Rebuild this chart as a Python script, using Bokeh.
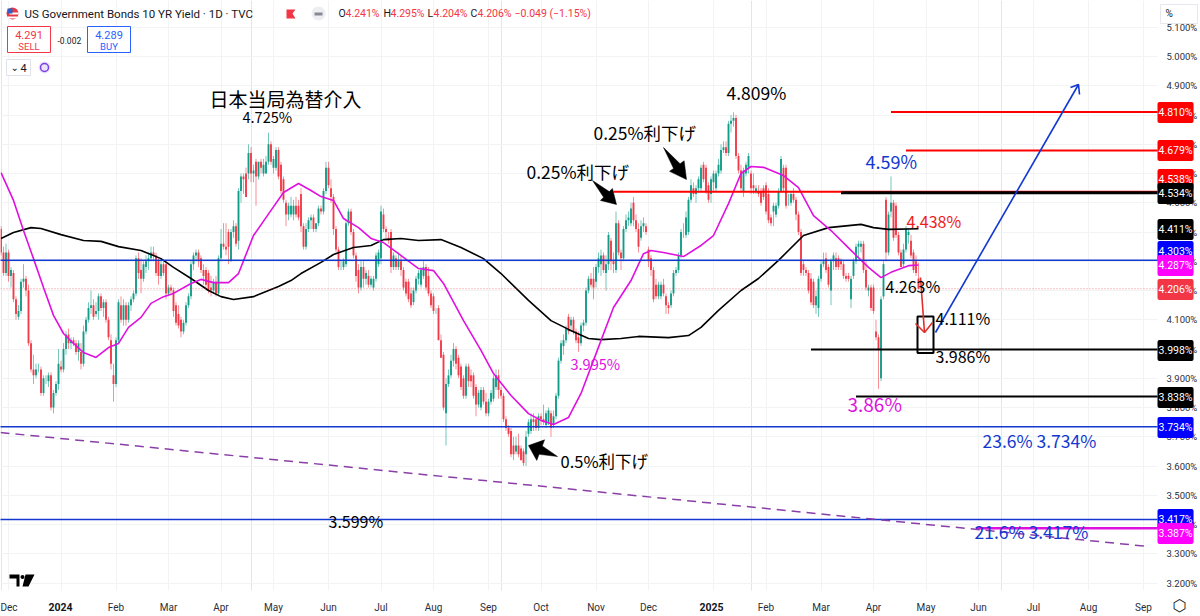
from bokeh.plotting import figure
from bokeh.models import Range1d, FixedTicker, Label, LinearAxis, Grid
from bokeh.embed import file_html
from bokeh.resources import INLINE

opens = [4.41,4.33,4.26,4.33,4.25,4.26,4.17,4.11,4.13,4.23,
4.24,4.20,4.02,3.93,3.91,3.93,3.93,3.85,3.90,3.89,
3.91,3.80,3.85,3.88,3.94,3.93,4.00,4.05,4.02,4.03,
4.02,3.99,3.99,3.95,4.06,4.10,4.14,4.15,4.12,4.13,
4.18,4.14,4.16,4.10,4.03,3.91,3.88,4.03,4.15,4.10,
4.15,4.10,4.15,4.17,4.19,4.31,4.27,4.24,4.28,4.30,
4.31,4.33,4.32,4.30,4.25,4.29,4.29,4.19,4.21,4.20,
4.15,4.12,4.10,4.06,4.09,4.15,4.18,4.29,4.32,4.33,
4.31,4.27,4.27,4.26,4.21,4.20,4.23,4.19,4.31,4.36,
4.35,4.40,4.30,4.40,4.42,4.37,4.54,4.59,4.60,4.60,
4.67,4.60,4.64,4.59,4.64,4.60,4.60,4.64,4.70,4.62,
4.62,4.68,4.63,4.58,4.50,4.46,4.46,4.46,4.49,4.49,
4.53,4.42,4.35,4.41,4.44,4.45,4.41,4.43,4.48,4.47,
4.54,4.62,4.55,4.52,4.41,4.34,4.28,4.28,4.29,4.43,
4.47,4.40,4.32,4.27,4.21,4.28,4.24,4.25,4.22,4.21,
4.24,4.29,4.31,4.46,4.41,4.38,4.40,4.28,4.31,4.28,
4.30,4.27,4.23,4.23,4.19,4.16,4.20,4.24,4.22,4.25,
4.28,4.25,4.19,4.18,4.13,4.14,4.03,3.98,3.78,3.88,
3.91,3.96,4.00,3.97,3.94,3.90,3.84,3.94,3.91,3.91,
3.87,3.81,3.80,3.86,3.82,3.78,3.82,3.83,3.87,3.91,
3.86,3.84,3.76,3.73,3.72,3.67,3.65,3.67,3.66,3.65,
3.64,3.71,3.72,3.76,3.76,3.73,3.77,3.76,3.74,3.75,
3.78,3.74,3.77,3.84,3.96,4.01,4.03,4.11,4.08,4.10,
4.06,4.04,4.02,4.08,4.09,4.20,4.24,4.24,4.23,4.28,
4.29,4.32,4.26,4.29,4.37,4.30,4.27,4.43,4.33,4.31,
4.41,4.44,4.43,4.50,4.44,4.41,4.38,4.42,4.42,4.34,
4.31,4.27,4.22,4.18,4.18,4.22,4.18,4.15,4.15,4.19,
4.26,4.27,4.32,4.40,4.39,4.40,4.51,4.55,4.53,4.55,
4.55,4.63,4.62,4.56,4.53,4.57,4.55,4.60,4.61,4.68,
4.69,4.67,4.77,4.78,4.79,4.66,4.61,4.54,4.60,4.62,
4.60,4.56,4.54,4.54,4.54,4.55,4.56,4.53,4.45,4.47,
4.46,4.49,4.54,4.62,4.62,4.52,4.50,4.53,4.51,4.46,
4.40,4.29,4.27,4.26,4.24,4.23,4.15,4.14,4.24,4.29,
4.31,4.28,4.20,4.30,4.31,4.31,4.30,4.29,4.25,4.25,
4.17,4.25,4.30,4.35,4.35,4.36,4.27,4.20,4.21,4.21,
4.06,4.04,3.90,4.18,4.51,4.33,4.47,4.50,4.49,4.39,
4.33,4.29,4.34,4.39,4.37,4.33,4.30,4.241]
highs = [4.42,4.35,4.36,4.34,4.28,4.27,4.18,4.15,4.24,4.29,
4.25,4.22,4.03,3.98,3.95,3.95,3.94,3.91,3.91,3.92,
3.92,3.86,3.89,4.00,3.96,4.02,4.06,4.07,4.04,4.04,
4.03,4.03,4.02,4.08,4.11,4.16,4.20,4.17,4.16,4.19,
4.19,4.17,4.17,4.11,4.05,3.95,4.04,4.17,4.18,4.17,
4.16,4.16,4.18,4.20,4.32,4.33,4.31,4.30,4.32,4.33,
4.35,4.35,4.33,4.31,4.31,4.30,4.30,4.22,4.22,4.21,
4.16,4.15,4.11,4.10,4.16,4.19,4.30,4.33,4.34,4.34,
4.32,4.29,4.28,4.27,4.25,4.24,4.25,4.32,4.41,4.43,
4.43,4.41,4.41,4.44,4.43,4.55,4.60,4.60,4.62,4.70,
4.69,4.63,4.65,4.64,4.65,4.65,4.66,4.74,4.71,4.66,
4.69,4.69,4.64,4.59,4.51,4.50,4.52,4.51,4.52,4.51,
4.55,4.43,4.43,4.45,4.46,4.46,4.43,4.49,4.49,4.55,
4.64,4.64,4.58,4.53,4.42,4.35,4.30,4.31,4.44,4.48,
4.48,4.41,4.33,4.29,4.30,4.30,4.27,4.27,4.25,4.25,
4.33,4.34,4.49,4.48,4.42,4.40,4.41,4.33,4.32,4.33,
4.32,4.28,4.24,4.24,4.21,4.21,4.25,4.27,4.28,4.30,
4.29,4.28,4.20,4.19,4.14,4.15,4.05,3.99,3.90,3.93,
3.98,4.02,4.01,3.98,3.95,3.91,3.95,3.95,3.93,3.92,
3.88,3.86,3.87,3.87,3.85,3.83,3.86,3.91,3.93,3.93,
3.87,3.85,3.77,3.74,3.73,3.70,3.70,3.71,3.67,3.66,
3.72,3.76,3.78,3.78,3.77,3.78,3.78,3.81,3.79,3.80,
3.79,3.79,3.85,3.97,4.03,4.05,4.08,4.12,4.11,4.11,
4.07,4.06,4.09,4.10,4.21,4.25,4.26,4.28,4.29,4.33,
4.34,4.33,4.32,4.40,4.38,4.33,4.47,4.44,4.34,4.42,
4.46,4.47,4.50,4.52,4.46,4.43,4.44,4.45,4.43,4.35,
4.32,4.28,4.24,4.23,4.23,4.24,4.19,4.16,4.20,4.27,
4.28,4.33,4.41,4.43,4.47,4.52,4.58,4.57,4.56,4.59,
4.63,4.64,4.63,4.57,4.59,4.61,4.61,4.65,4.70,4.71,
4.71,4.78,4.80,4.809,4.80,4.67,4.63,4.62,4.64,4.67,
4.61,4.60,4.56,4.56,4.55,4.56,4.57,4.55,4.46,4.50,
4.50,4.55,4.66,4.63,4.63,4.53,4.54,4.55,4.52,4.47,
4.41,4.30,4.28,4.27,4.26,4.24,4.20,4.25,4.30,4.33,
4.33,4.29,4.31,4.33,4.33,4.32,4.31,4.30,4.26,4.26,
4.25,4.31,4.36,4.37,4.37,4.37,4.30,4.22,4.22,4.22,
4.10,4.05,4.18,4.30,4.52,4.47,4.59,4.51,4.50,4.40,
4.34,4.36,4.42,4.41,4.39,4.34,4.32,4.295]
lows = [4.32,4.25,4.25,4.23,4.21,4.16,4.10,4.10,4.12,4.21,
4.18,4.01,3.92,3.88,3.90,3.92,3.84,3.84,3.88,3.87,
3.79,3.78,3.84,3.86,3.92,3.92,3.98,4.00,4.00,4.01,
3.98,3.96,3.93,3.94,4.05,4.09,4.12,4.10,4.11,4.10,
4.13,4.11,4.09,4.03,3.93,3.82,3.87,4.02,4.09,4.08,
4.08,4.09,4.13,4.16,4.18,4.24,4.19,4.23,4.26,4.27,
4.30,4.30,4.25,4.22,4.24,4.25,4.17,4.18,4.19,4.11,
4.08,4.07,4.04,4.05,4.08,4.14,4.17,4.27,4.30,4.28,
4.26,4.22,4.21,4.19,4.18,4.19,4.18,4.18,4.30,4.34,
4.32,4.29,4.30,4.38,4.35,4.34,4.50,4.53,4.52,4.58,
4.57,4.57,4.49,4.58,4.60,4.59,4.60,4.63,4.63,4.60,
4.61,4.58,4.53,4.50,4.42,4.44,4.45,4.44,4.45,4.44,
4.40,4.34,4.34,4.40,4.41,4.40,4.40,4.42,4.46,4.46,
4.53,4.55,4.50,4.39,4.33,4.27,4.27,4.27,4.28,4.42,
4.39,4.31,4.23,4.19,4.20,4.21,4.22,4.21,4.21,4.20,
4.23,4.28,4.29,4.40,4.37,4.36,4.26,4.27,4.27,4.27,
4.25,4.20,4.18,4.16,4.14,4.15,4.19,4.22,4.21,4.24,
4.20,4.18,4.14,4.12,4.12,4.03,3.97,3.79,3.67,3.87,
3.90,3.94,3.93,3.90,3.86,3.83,3.83,3.87,3.87,3.83,
3.77,3.80,3.79,3.81,3.77,3.77,3.81,3.82,3.86,3.83,
3.83,3.75,3.72,3.70,3.63,3.62,3.64,3.63,3.62,3.60,
3.60,3.70,3.71,3.72,3.72,3.72,3.74,3.74,3.73,3.74,
3.70,3.73,3.76,3.83,3.95,3.98,4.02,4.05,4.06,4.05,
4.02,3.99,4.01,4.06,4.08,4.19,4.21,4.17,4.21,4.26,
4.25,4.26,4.20,4.27,4.27,4.26,4.26,4.32,4.27,4.30,
4.40,4.42,4.42,4.42,4.40,4.33,4.37,4.40,4.39,4.28,
4.25,4.16,4.17,4.17,4.17,4.18,4.12,4.12,4.14,4.18,
4.25,4.26,4.31,4.38,4.38,4.39,4.50,4.52,4.50,4.54,
4.54,4.57,4.53,4.50,4.50,4.54,4.54,4.59,4.60,4.67,
4.66,4.66,4.74,4.76,4.65,4.60,4.54,4.52,4.59,4.60,
4.53,4.53,4.53,4.52,4.49,4.51,4.46,4.43,4.42,4.42,
4.45,4.48,4.54,4.54,4.48,4.49,4.49,4.50,4.44,4.39,
4.25,4.25,4.25,4.19,4.15,4.14,4.12,4.11,4.23,4.28,
4.26,4.21,4.15,4.27,4.27,4.27,4.27,4.24,4.23,4.23,
4.14,4.24,4.29,4.31,4.33,4.26,4.20,4.18,4.13,4.12,
4.03,3.864,3.89,4.17,4.30,4.32,4.45,4.37,4.38,4.32,
4.28,4.28,4.33,4.36,4.31,4.26,4.25,4.204]
closes = [4.33,4.26,4.33,4.25,4.27,4.17,4.12,4.13,4.23,4.24,
4.20,4.02,3.93,3.91,3.93,3.93,3.85,3.90,3.90,3.91,
3.80,3.85,3.88,3.95,3.93,4.00,4.05,4.02,4.03,4.02,
3.99,4.02,3.95,4.06,4.10,4.14,4.15,4.11,4.13,4.18,
4.14,4.16,4.10,4.04,3.95,3.88,4.03,4.16,4.10,4.15,
4.10,4.15,4.17,4.19,4.31,4.26,4.24,4.29,4.30,4.31,
4.33,4.32,4.26,4.25,4.29,4.26,4.19,4.21,4.20,4.13,
4.09,4.08,4.06,4.09,4.15,4.18,4.29,4.32,4.33,4.30,
4.27,4.25,4.22,4.20,4.20,4.23,4.19,4.31,4.36,4.35,
4.34,4.35,4.40,4.42,4.36,4.54,4.59,4.58,4.52,4.67,
4.60,4.61,4.59,4.64,4.62,4.63,4.64,4.70,4.64,4.65,
4.68,4.59,4.54,4.51,4.46,4.49,4.49,4.49,4.46,4.45,
4.42,4.35,4.41,4.44,4.45,4.41,4.43,4.48,4.47,4.54,
4.62,4.56,4.52,4.41,4.34,4.28,4.28,4.30,4.43,4.47,
4.40,4.32,4.25,4.21,4.28,4.24,4.26,4.22,4.24,4.24,
4.32,4.33,4.47,4.41,4.40,4.37,4.28,4.32,4.28,4.30,
4.27,4.21,4.19,4.17,4.15,4.20,4.24,4.26,4.27,4.28,
4.21,4.19,4.15,4.13,4.13,4.03,3.97,3.80,3.88,3.91,
3.96,4.00,3.95,3.91,3.87,3.84,3.94,3.89,3.89,3.84,
3.81,3.85,3.86,3.82,3.78,3.82,3.85,3.90,3.91,3.86,
3.84,3.76,3.73,3.71,3.64,3.64,3.67,3.64,3.62,3.61,
3.70,3.75,3.76,3.75,3.73,3.77,3.76,3.75,3.78,3.79,
3.73,3.77,3.84,3.96,4.02,4.03,4.07,4.06,4.10,4.06,
4.03,4.02,4.08,4.09,4.20,4.24,4.22,4.21,4.28,4.31,
4.32,4.27,4.29,4.39,4.30,4.29,4.43,4.33,4.31,4.41,
4.44,4.45,4.48,4.44,4.41,4.35,4.42,4.43,4.40,4.30,
4.27,4.17,4.18,4.22,4.22,4.19,4.15,4.14,4.19,4.26,
4.27,4.32,4.40,4.40,4.45,4.51,4.56,4.53,4.55,4.58,
4.62,4.58,4.54,4.51,4.58,4.60,4.60,4.63,4.68,4.69,
4.67,4.77,4.78,4.79,4.66,4.61,4.55,4.61,4.63,4.66,
4.55,4.55,4.55,4.53,4.50,4.52,4.47,4.44,4.43,4.49,
4.49,4.54,4.65,4.55,4.49,4.52,4.53,4.51,4.46,4.40,
4.26,4.27,4.26,4.20,4.16,4.15,4.18,4.24,4.29,4.30,
4.27,4.22,4.30,4.32,4.28,4.28,4.29,4.25,4.24,4.24,
4.24,4.30,4.35,4.36,4.36,4.27,4.21,4.21,4.14,4.13,
4.04,4.00,4.17,4.29,4.33,4.46,4.50,4.38,4.39,4.33,
4.28,4.34,4.41,4.40,4.32,4.27,4.26,4.206]

ma20_bar = [0,5,9,13,17,21,25,29,33,38,43,47,51,56,60,65,69,76,80,85,91,95,101,108,113,119,124,128,133,137,143,148,153,159,167,173,177,185,192,197,204,211,216,221,227,232,237,245,252,257,260,265,273,280,285,291,296,300,305,313,319,325,332,340,347,352,356,363,367]
ma20 = [4.603,4.508,4.405,4.309,4.210,4.115,4.053,4.019,3.988,3.971,4.005,4.019,4.074,4.108,4.156,4.179,4.190,4.224,4.238,4.227,4.227,4.258,4.388,4.474,4.535,4.566,4.542,4.521,4.508,4.446,4.415,4.378,4.364,4.326,4.275,4.268,4.224,4.097,3.995,3.916,3.841,3.779,3.756,3.742,3.766,3.848,3.961,4.142,4.234,4.326,4.337,4.330,4.316,4.354,4.388,4.497,4.600,4.624,4.621,4.593,4.552,4.456,4.405,4.337,4.279,4.244,4.262,4.285,4.287]
ma200_bar = [0,5,12,16,24,33,40,47,56,64,69,76,83,88,93,101,111,116,120,128,133,141,148,153,160,167,176,184,193,200,211,220,227,235,240,248,255,267,275,280,287,296,303,311,321,331,344,349,355,367]
ma200 = [4.378,4.398,4.415,4.412,4.391,4.371,4.368,4.350,4.337,4.309,4.279,4.241,4.200,4.179,4.169,4.179,4.214,4.234,4.258,4.296,4.323,4.347,4.354,4.374,4.378,4.371,4.374,4.347,4.309,4.258,4.166,4.097,4.067,4.036,4.032,4.036,4.043,4.039,4.046,4.074,4.132,4.200,4.241,4.303,4.388,4.415,4.426,4.415,4.409,4.411]

level_prices = [4.810,4.679,4.538,4.534,3.998,3.838,4.303,3.734,3.417,3.387]
level_start_bar = [356,362,245,336,324,342,-1,-1,-1,390]
level_colors = ["#ff0000","#ff0000","#ff0000","#000000","#000000","#000000","#1238d0","#1238d0","#1238d0","#e010e0"]
level_widths = [2,2,2,3,2,2,1.5,1.5,1.5,2.5]

tag_texts = ["4.810%","4.679%","4.538%","4.534%","4.411%","4.303%","4.287%","4.206%","3.998%","3.838%","3.734%","3.417%","3.387%"]
tag_colors = ["#ff0000","#ff0000","#ff0000","#000000","#000000","#0000ff","#ff00ff","#f23645","#000000","#000000","#0000ff","#0000ff","#ff00ff"]
tag_py = [112,150,179,193,229,251,265,289,350,397,427,519,533]

month_bars = [3,24,46,67,88,109,131,152,173,195,216,238,259,285,306,328,349,370,391,413,435,457]
month_labels = ["Dec","2024","Feb","Mar","Apr","May","Jun","Jul","Aug","Sep","Oct","Nov","Dec","2025","Feb","Mar","Apr","May","Jun","Jul","Aug","Sep"]
price_ticks = [3.2,3.3,3.4,3.5,3.6,3.7,3.8,3.9,4.0,4.1,4.2,4.3,4.4,4.5,4.6,4.7,4.8,4.9,5.0,5.1]

def X(px):
    return (px - 0.5) / 2.5

def Y(py):
    return 5 - (py - 56) / 292.5

UP = "#0c9a85"
DN = "#f23645"
CJK = "Noto Sans CJK JP"
GRID = "#f2f3f5"

# The frame fills the whole page so that the price tags can sit over the scale;
# both axes are pinned inside it, where the reference has them.
p = figure(width=1200, height=616, frame_width=1200, frame_height=616, output_backend="svg", toolbar_location=None,
           x_range=Range1d(X(0), X(1200)), y_range=Range1d(Y(616), Y(0)),
           x_axis_location=None, y_axis_location=None,
           min_border_left=0, min_border_top=0, min_border_right=0, min_border_bottom=0,
           outline_line_color=None, background_fill_color="white", border_fill_color="white")

yaxis = LinearAxis(fixed_location=X(1157), ticker=FixedTicker(ticks=price_ticks),
                   major_label_overrides={t: f"{t:.3f}%" for t in price_ticks},
                   major_label_text_font="Roboto", major_label_text_font_size="9.5px",
                   major_label_text_color="#2a2e39", major_label_standoff=3,
                   major_tick_line_color=None, minor_tick_line_color=None, axis_line_color=None)
p.add_layout(yaxis, "right")
xaxis = LinearAxis(fixed_location=Y(590), ticker=FixedTicker(ticks=month_bars),
                   major_label_overrides={b: ("" if l.startswith("20") else l) for b, l in zip(month_bars, month_labels)},
                   major_label_text_font="Roboto", major_label_text_font_size="10px",
                   major_label_text_color="#2a2e39", major_label_standoff=5,
                   major_tick_line_color=None, minor_tick_line_color=None, axis_line_color=None)
p.add_layout(xaxis, "below")
p.add_layout(Grid(dimension=0, ticker=FixedTicker(ticks=month_bars), grid_line_color=GRID))
p.add_layout(Grid(dimension=1, ticker=FixedTicker(ticks=price_ticks), grid_line_color=GRID))

# scale and time strip stay clear of the grid
p.quad(left=[X(1157), X(0)], right=[X(1200), X(1200)], top=[Y(0), Y(590)], bottom=[Y(616), Y(616)],
       fill_color="white", line_color=None)

bars = list(range(len(closes)))
up = [i for i in bars if closes[i] >= opens[i]]
dn = [i for i in bars if closes[i] < opens[i]]
for idx, c in ((up, UP), (dn, DN)):
    p.segment([bars[i] for i in idx], [lows[i] for i in idx], [bars[i] for i in idx], [highs[i] for i in idx],
              line_color=c, line_width=0.8, line_alpha=0.7)
    p.vbar([bars[i] for i in idx], 0.76, [min(opens[i], closes[i]) for i in idx], [max(opens[i], closes[i]) for i in idx],
           fill_color=c, line_color=None, fill_alpha=0.95)

p.line(ma200_bar, ma200, line_color="#000000", line_width=1.6)
p.line(ma20_bar, ma20, line_color="#e010e0", line_width=1.6)

x_end = X(1157)
for price, start, c, w in zip(level_prices, level_start_bar, level_colors, level_widths):
    p.segment([start], [price], [x_end], [price], line_color=c, line_width=w)
p.segment([X(0)], [closes[-1]], [x_end], [closes[-1]], line_color=DN, line_alpha=0.6, line_width=1, line_dash="1 2")

p.line([X(0), X(1148)], [Y(432), Y(546)], line_color="#8a3fa8", line_width=1.5, line_dash="9 6")
p.quad(left=[X(917)], right=[X(933)], top=[4.111], bottom=[3.986], fill_color=None, line_color="#000000", line_width=2)

def pline(pts, color, width=1.6):
    p.line([X(a) for a, b in pts], [Y(b) for a, b in pts], line_color=color, line_width=width)

pline([(935, 332), (1078, 84)], "#1238d0")
pline([(1070, 87), (1078, 84), (1079, 94)], "#1238d0")
pline([(920, 277), (924, 332)], "#e0302a")
pline([(915, 323), (924, 332), (932, 322)], "#e0302a")

def block_arrow(tail, tip, shaft, head):
    dx, dy = tip[0] - tail[0], tip[1] - tail[1]
    n = (dx * dx + dy * dy) ** 0.5
    ux, uy = dx / n, dy / n
    vx, vy = -uy, ux
    bx, by = tip[0] - ux * n * 0.42, tip[1] - uy * n * 0.42
    pts = [tail,
           (bx + vx * shaft / 2, by + vy * shaft / 2),
           (bx + vx * head / 2, by + vy * head / 2),
           tip,
           (bx - vx * head / 2, by - vy * head / 2),
           (bx - vx * shaft / 2, by - vy * shaft / 2)]
    p.patch([X(a) for a, b in pts], [Y(b) for a, b in pts], fill_color="#000000", line_color="#000000", line_width=0.5)

block_arrow((592, 180), (616, 204), 8, 17)
block_arrow((663, 147), (686, 179), 8, 18)
block_arrow((557, 456), (528, 445), 9, 22)

def box(x0, y0, x1, y1, fill, line):
    p.quad(left=[X(x0)], right=[X(x1)], top=[Y(y0)], bottom=[Y(y1)], fill_color=fill, line_color=line, line_width=1)

def text(px, py, s, size, color="#000000", font=CJK, align="left", style="normal"):
    p.add_layout(Label(x=px, y=py, x_units="canvas", y_units="canvas", text=s, text_font_size=f"{size}px", text_color=color, text_font=font,
                       text_align=align, text_baseline="middle", text_font_style=style))

# annotations on the chart
text(209, 98, "日本当局為替介入", 19)
text(242, 116, "4.725%", 14.5)
text(726, 92, "4.809%", 17.5)
text(593, 132, "0.25%利下げ", 17.5)
text(526, 171, "0.25%利下げ", 17.5)
text(560, 460, "0.5%利下げ", 16.5)
text(865, 160, "4.59%", 18, "#1238d0")
text(906, 220, "4.438%", 16, "#ee1c1c")
text(885, 285, "4.263%", 16)
text(935, 317, "4.111%", 16)
text(935, 355, "3.986%", 16)
text(847, 403, "3.86%", 19, "#e010e0")
text(570, 363, "3.995%", 14.5, "#e010e0")
text(328, 520, "3.599%", 16)
text(982, 440, "23.6% 3.734%", 17.5, "#1238d0")
text(974, 531, "21.6% 3.417%", 17.5, "#1238d0")

# price tags on the scale
for s, c, py in zip(tag_texts, tag_colors, tag_py):
    p.add_layout(Label(x=1157, y=py, x_units="canvas", y_units="canvas", text=s, text_font_size="10.5px", text_color="white", text_font="Roboto",
                       text_align="left", text_baseline="middle", background_fill_color=c, padding=(1, 4), border_radius=2))

# bold year labels
text(60, 606, "2024", 10.5, "#131722", "Roboto", "center", "bold")
text(711, 606, "2025", 10.5, "#131722", "Roboto", "center", "bold")

# header
p.circle([X(12)], [Y(13)], radius=X(18) - X(12), fill_color="#e63946", line_color=None)
box(9, 12, 18, 14, "white", None)
box(7, 16, 17, 18, "white", None)
box(7, 8, 12, 13, "#2f5fc0", None)
text(24, 13, "US Government Bonds 10 YR Yield · 1D · TVC", 11.5, "#131722", "Roboto")
p.patch([X(a) for a in (286, 295, 292, 295, 286)], [Y(b) for b in (9, 9, 13, 18, 18)], fill_color="#f23645", line_color=None)
p.circle([X(318)], [Y(13)], radius=X(325) - X(318), fill_color="#eceef1", line_color=None)
box(314, 12, 322, 15, "#868993", None)
text(338, 13, "O", 10.5, "#131722", "Roboto")
text(345, 13, "4.241%", 10.5, DN, "Roboto")
text(383, 13, "H", 10.5, "#131722", "Roboto")
text(390, 13, "4.295%", 10.5, DN, "Roboto")
text(427, 13, "L", 10.5, "#131722", "Roboto")
text(433, 13, "4.204%", 10.5, DN, "Roboto")
text(470, 13, "C", 10.5, "#131722", "Roboto")
text(477, 13, "4.206%", 10.5, DN, "Roboto")
text(514, 13, "−0.049 (−1.15%)", 10.5, DN, "Roboto")

box(7, 26, 50, 52, "white", DN)
text(28.5, 34, "4.291", 11, DN, "Roboto", "center")
text(28.5, 46, "SELL", 9.5, DN, "Roboto", "center")
text(57, 40, "-0.002", 8.5, "#131722", "Roboto")
box(87, 26, 130, 52, "white", "#2962ff")
text(108.5, 34, "4.289", 11, "#2962ff", "Roboto", "center")
text(108.5, 46, "BUY", 9.5, "#2962ff", "Roboto", "center")
box(6, 59, 30, 75, "white", "#e0e3eb")
text(10, 67, "⌄", 10, "#131722", "DejaVu Sans")
text(20, 67, "4", 11, "#131722", "Roboto")
p.circle([X(44)], [Y(67)], radius=X(50) - X(44), fill_color="#ebe3fa", line_color=None)
p.circle([X(44)], [Y(67)], radius=X(48) - X(44), fill_color=None, line_color="#7b3fe4", line_width=1.5)

# logo
p.patch([X(a) for a in (9, 19, 19, 16, 16, 12, 12, 9)], [Y(b) for b in (574, 574, 586, 586, 578, 578, 578, 578)], fill_color="#000000", line_color=None)
p.circle([X(22)], [Y(576.5)], radius=X(24) - X(22), fill_color="#000000", line_color=None)
p.patch([X(a) for a in (25, 34, 28, 22)], [Y(b) for b in (574, 574, 586, 586)], fill_color="#000000", line_color=None)

# scale corner items
box(1160, 4, 1197, 23, "white", "#e6e8ee")
text(1165, 13, "%", 10, "#131722", "Roboto")
text(1179, 605, "⬡", 16, "#131722", "DejaVu Sans", "center")

open("out.html", "w").write(file_html(p, INLINE))
